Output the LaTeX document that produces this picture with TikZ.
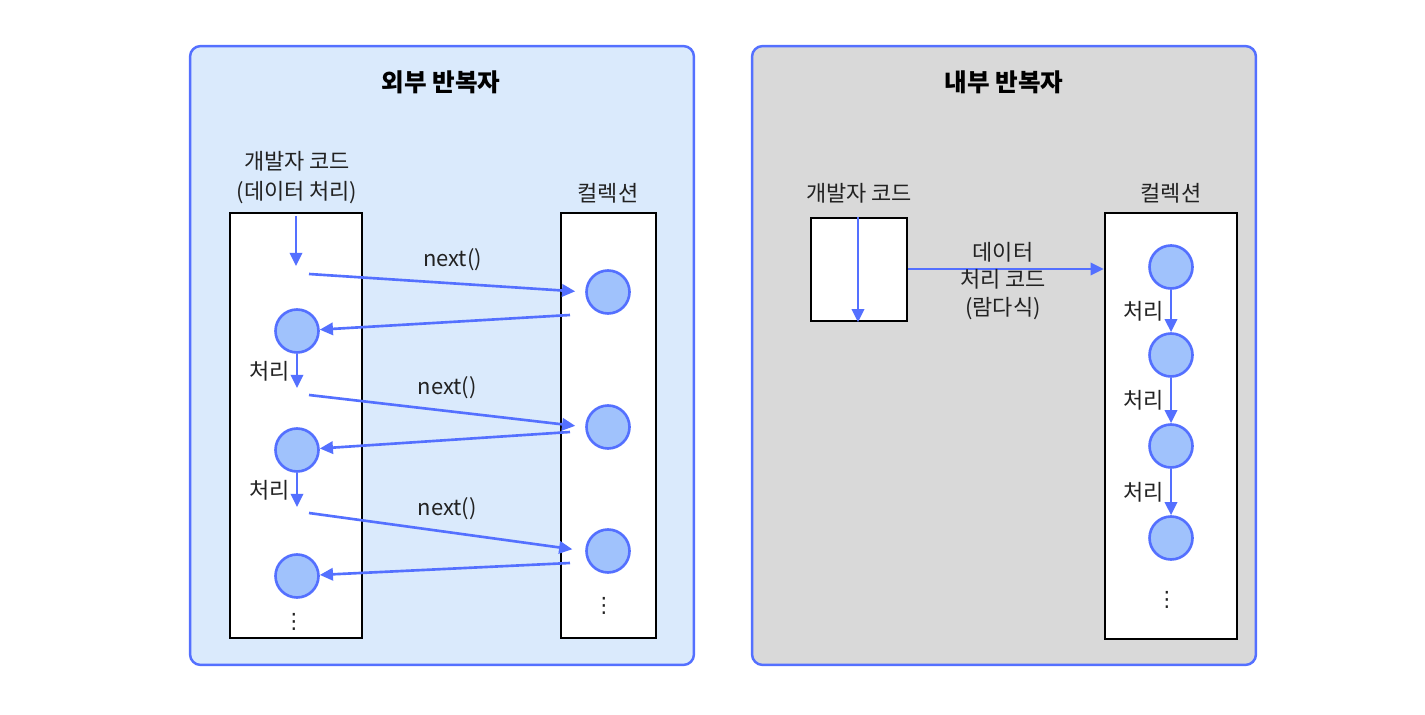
\documentclass[tikz,border=0pt]{standalone}
\usepackage{fontspec}
\setmainfont{Noto Sans CJK KR}
\newfontfamily\dotsfont{DejaVu Sans}
\usetikzlibrary{arrows.meta,positioning}

\definecolor{linkblue}{RGB}{84,112,255}
\definecolor{itemfill}{RGB}{160,194,252}
\definecolor{extfill}{RGB}{218,234,252}
\definecolor{intfill}{RGB}{217,217,217}
\definecolor{textgray}{RGB}{34,34,34}

\begin{document}
\begin{tikzpicture}[
  x=0.02cm, y=-0.02cm,
  panel/.style={draw=linkblue, line width=1.4pt, rounded corners=6pt, minimum width=10.08cm, minimum height=12.38cm},
  codebox/.style={draw=black, line width=1.4pt, fill=white},
  item/.style={circle, draw=linkblue, line width=1.5pt, fill=itemfill, minimum size=0.86cm, inner sep=0pt},
  flow/.style={draw=linkblue, line width=1.5pt, -{Triangle[length=7.5pt,width=7pt]}},
  lbl/.style={font=\fontsize{12.5}{15.5}\selectfont, text=textgray},
  vdot/.style={font=\dotsfont\fontsize{12}{12}\selectfont, text=textgray, inner sep=0pt},
  title/.style={font=\fontsize{14}{16}\selectfont\bfseries}
]
  \useasboundingbox (0,0) rectangle (1425,715);

  % external iterator
  \node[panel, fill=extfill] (extPanel) at (442,355.5) {};
  \node[title] (extTitle) at (441,82) {외부 반복자};
  \node[codebox, minimum width=2.64cm, minimum height=8.5cm] (extCode) at (296,425.5) {};
  \node[codebox, minimum width=1.9cm, minimum height=8.5cm] (extColl) at (608.5,425.5) {};
  \node[lbl, align=center] (extCodeTxt) at (297,178) {개발자 코드\\[1.5pt](데이터 처리)};
  \node[lbl] (extCollTxt) at (608,193) {컬렉션};

  \node[item] (u1) at (297,331) {};
  \node[item] (u2) at (297,450) {};
  \node[item] (u3) at (297,576) {};
  \node[item] (c1) at (608,292) {};
  \node[item] (c2) at (608,427) {};
  \node[item] (c3) at (608,551) {};
  \node[vdot] (extDotsL) at (294,622) {⋮};
  \node[vdot] (extDotsR) at (604,606) {⋮};

  \coordinate (p0) at (296,216);
  \coordinate (p1) at (296,266);
  \coordinate (p2) at (297,388);
  \coordinate (p3) at (297,507);
  \coordinate (q1) at (309,274);
  \coordinate (q2) at (309,395);
  \coordinate (q3) at (309,513);
  \coordinate (r1) at (570,315);
  \coordinate (r2) at (570,432);
  \coordinate (r3) at (570,563);

  \draw[flow] (p0) -- (p1);
  \draw[flow, shorten >=0.2cm] (q1) -- node[lbl, above=3pt, pos=0.52] (next1) {next()} (c1.west);
  \draw[flow] (r1) -- (u1);
  \draw[flow] (u1) -- node[lbl, left=0pt] (proc1) {처리} (p2);
  \draw[flow, shorten >=0.2cm] (q2) -- node[lbl, above=3pt, pos=0.5] (next2) {next()} (c2.west);
  \draw[flow] (r2) -- (u2);
  \draw[flow] (u2) -- node[lbl, left=0pt] (proc2) {처리} (p3);
  \draw[flow, shorten >=0.26cm] (q3) -- node[lbl, above=3pt, pos=0.5] (next3) {next()} (c3.west);
  \draw[flow] (r3) -- (u3);

  % internal iterator
  \node[panel, fill=intfill] (intPanel) at (1004,355.5) {};
  \node[title] (intTitle) at (1004,82) {내부 반복자};
  \node[codebox, minimum width=1.92cm, minimum height=2.06cm] (intCode) at (859,269.5) {};
  \node[codebox, minimum width=2.64cm, minimum height=8.52cm] (intColl) at (1171,426) {};
  \node[lbl] (intCodeTxt) at (859,193) {개발자 코드};
  \node[lbl] (intCollTxt) at (1171,193) {컬렉션};

  \node[item] (i1) at (1171,267) {};
  \node[item] (i2) at (1171,355) {};
  \node[item] (i3) at (1171,446) {};
  \node[item] (i4) at (1171,538) {};
  \node[vdot] (intDots) at (1167,600) {⋮};

  \draw[flow] ([xshift=-0.02cm]intCode.north) -- ([xshift=-0.02cm]intCode.south);
  \draw[flow] (intCode.east |- 0,269) -- (intColl.west |- 0,269);
  \node[lbl, align=center] (lambdaTxt) at (1003,281) {데이터\\처리 코드\\(람다식)};
  \draw[flow] (i1) -- node[lbl, left=0pt] (proc3) {처리} (i2);
  \draw[flow] (i2) -- node[lbl, left=0pt] (proc4) {처리} (i3);
  \draw[flow] (i3) -- node[lbl, left=0pt] (proc5) {처리} (i4);
\end{tikzpicture}
\end{document}
